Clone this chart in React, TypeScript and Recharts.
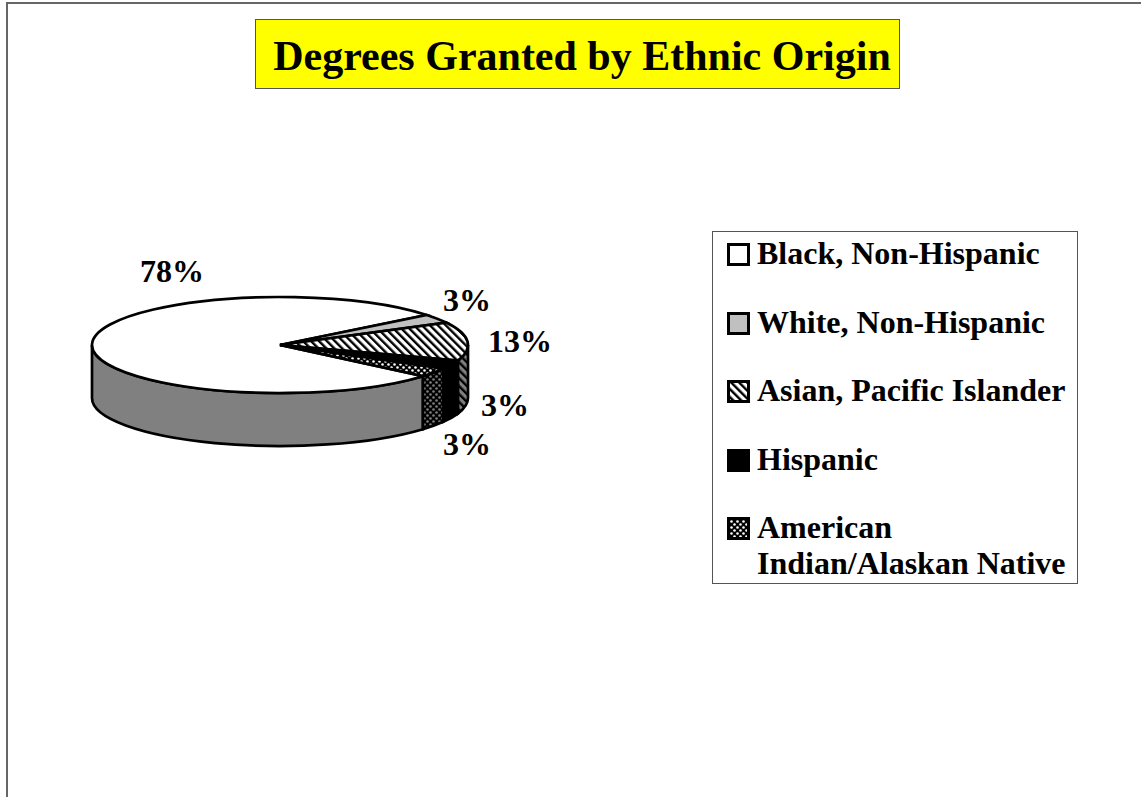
import React from "react";
import { PieChart, Pie, Legend } from "recharts";

const GROUPS = [
  "Black, Non-Hispanic",
  "White, Non-Hispanic",
  "Asian, Pacific Islander",
  "Hispanic",
  "American Indian/Alaskan Native",
];
const SHARES = [78, 3, 13, 3, 3];
const TOP_FILLS = ["#ffffff", "#c0c0c0", "url(#hatch)", "#000000", "url(#dots)"];
const WALL_FILLS = ["#808080", "#606060", "url(#hatchDark)", "#000000", "url(#dotsDark)"];

const topData = GROUPS.map((name, i) => ({ name, value: SHARES[i], fill: TOP_FILLS[i] }));
const wallData = GROUPS.map((name, i) => ({ name, value: SHARES[i], fill: WALL_FILLS[i] }));

const FONT = '"Liberation Serif", "Times New Roman", serif';
const CX = 280;
const CY = 345;
const RX = 188;
const RY = 48;
const DEPTH = 53;
const START = -40.5;
const EDGE = 2.7;

// hand placed in the original, offsets from pie centre
const LABEL_OFFSETS = [
  [-108, -74],
  [187, -45],
  [240, -4],
  [225, 60],
  [187, 99],
];

const rimX = (cx: number, deg: number) => cx + RX * Math.cos((deg * Math.PI) / 180);
const rimY = (cy: number, deg: number) => cy - RY * Math.sin((deg * Math.PI) / 180);

// flattened sector, recharts only gives us the angles
function TopSlice(props: any) {
  const { cx, cy, startAngle, endAngle, fill } = props;
  const large = Math.abs(startAngle - endAngle) > 180 ? 1 : 0;
  const d =
    `M${cx},${cy} L${rimX(cx, startAngle)},${rimY(cy, startAngle)} ` +
    `A${RX},${RY} 0 ${large} 1 ${rimX(cx, endAngle)},${rimY(cy, endAngle)} Z`;
  return <path d={d} fill={fill} stroke="#000" strokeWidth={EDGE} strokeLinejoin="miter" />;
}

// side of the disc, only the part of the sector facing the viewer
function WallSlice(props: any) {
  const { cx, cy, startAngle, endAngle, fill } = props;
  const paths: React.ReactNode[] = [];
  for (let k = 0; k < 3; k++) {
    const hi = Math.min(startAngle, -360 * k);
    const lo = Math.max(endAngle, -180 - 360 * k);
    if (hi <= lo) continue;
    const d =
      `M${rimX(cx, hi)},${rimY(cy, hi)} ` +
      `A${RX},${RY} 0 0 1 ${rimX(cx, lo)},${rimY(cy, lo)} ` +
      `L${rimX(cx, lo)},${rimY(cy, lo) + DEPTH} ` +
      `A${RX},${RY} 0 0 0 ${rimX(cx, hi)},${rimY(cy, hi) + DEPTH} Z`;
    paths.push(<path key={k} d={d} fill={fill} stroke="#000" strokeWidth={EDGE} />);
  }
  return <g>{paths}</g>;
}

function renderLabel(props: any) {
  const { cx, cy, index, value } = props;
  const [dx, dy] = LABEL_OFFSETS[index];
  return (
    <text
      key={index}
      x={cx + dx}
      y={cy + dy}
      textAnchor="middle"
      dominantBaseline="central"
      fontFamily={FONT}
      fontWeight="bold"
      fontSize={32}
      fill="#000"
    >
      {`${value}%`}
    </text>
  );
}

function renderLegend(props: any) {
  // the wall pie also lands in the payload, keep the top faces only, in source order
  const payload = props.payload || [];
  const items = GROUPS.map((name, i) =>
    payload.find((entry: any) => entry.value === name && entry.color === TOP_FILLS[i]),
  ).filter(Boolean);
  return (
    <div
      style={{
        position: "relative",
        width: 364,
        height: 351,
        border: "1px solid #555",
        background: "#fff",
        fontFamily: FONT,
        fontWeight: "bold",
        fontSize: 32,
        lineHeight: "36px",
        color: "#000",
      }}
    >
      {items.map((entry: any, i: number) => (
        <div key={entry.value} style={{ position: "absolute", left: 14, top: 3 + i * 68.5 }}>
          <svg width={23} height={23} style={{ position: "absolute", left: 0, top: 8 }}>
            <rect x={1.5} y={1.5} width={20} height={20} fill={entry.color} stroke="#000" strokeWidth={3} />
          </svg>
          <div style={{ marginLeft: 30, width: 325 }}>{entry.value}</div>
        </div>
      ))}
    </div>
  );
}

export default function App() {
  return (
    <div style={{ position: "absolute", left: 0, top: 0, width: 1141, height: 797, overflow: "hidden", background: "#fff" }}>
      {/* frame, only top and left show in the source */}
      <div style={{ position: "absolute", left: 6, top: 2, width: 1200, height: 900, borderLeft: "2px solid #666", borderTop: "2px solid #666" }} />
      <div
        style={{
          position: "absolute",
          left: 255,
          top: 19,
          width: 634,
          height: 68,
          paddingLeft: 9,
          background: "#ffff00",
          border: "1px solid #555",
          fontFamily: FONT,
          fontWeight: "bold",
          fontSize: 42,
          lineHeight: "73px",
          textAlign: "center",
          whiteSpace: "nowrap",
          color: "#000",
        }}
      >
        Degrees Granted by Ethnic Origin
      </div>
      <div style={{ position: "absolute", left: 0, top: 0 }}>
        <PieChart width={1141} height={797} margin={{ top: 0, right: 0, bottom: 0, left: 0 }}>
          <defs>
            <pattern id="hatch" width="5.6" height="5.6" patternUnits="userSpaceOnUse" patternTransform="rotate(-45)">
              <rect width="5.6" height="5.6" fill="#fff" />
              <rect width="2.4" height="5.6" fill="#000" />
            </pattern>
            <pattern id="hatchDark" width="5.6" height="5.6" patternUnits="userSpaceOnUse" patternTransform="rotate(-45)">
              <rect width="5.6" height="5.6" fill="#808080" />
              <rect width="2.4" height="5.6" fill="#000" />
            </pattern>
            <pattern id="dots" width="6" height="6" patternUnits="userSpaceOnUse">
              <rect width="6" height="6" fill="#000" />
              <circle cx="1.5" cy="1.5" r="1.3" fill="#fff" />
              <circle cx="4.5" cy="4.5" r="1.3" fill="#fff" />
            </pattern>
            <pattern id="dotsDark" width="6" height="6" patternUnits="userSpaceOnUse">
              <rect width="6" height="6" fill="#000" />
              <circle cx="1.5" cy="1.5" r="1.3" fill="#808080" />
              <circle cx="4.5" cy="4.5" r="1.3" fill="#808080" />
            </pattern>
          </defs>
          <Pie
            data={wallData}
            dataKey="value"
            nameKey="name"
            cx={CX}
            cy={CY}
            outerRadius={RX}
            startAngle={START}
            endAngle={START - 360}
            shape={WallSlice}
            legendType="none"
            isAnimationActive={false}
          />
          <Pie
            data={topData}
            dataKey="value"
            nameKey="name"
            cx={CX}
            cy={CY}
            outerRadius={RX}
            startAngle={START}
            endAngle={START - 360}
            shape={TopSlice}
            label={renderLabel}
            labelLine={false}
            isAnimationActive={false}
          />
          <Legend
            content={renderLegend}
            itemSorter={null}
            wrapperStyle={{ position: "absolute", left: 712, top: 231, width: 366, height: 353, bottom: "auto", right: "auto" }}
          />
        </PieChart>
      </div>
    </div>
  );
}
